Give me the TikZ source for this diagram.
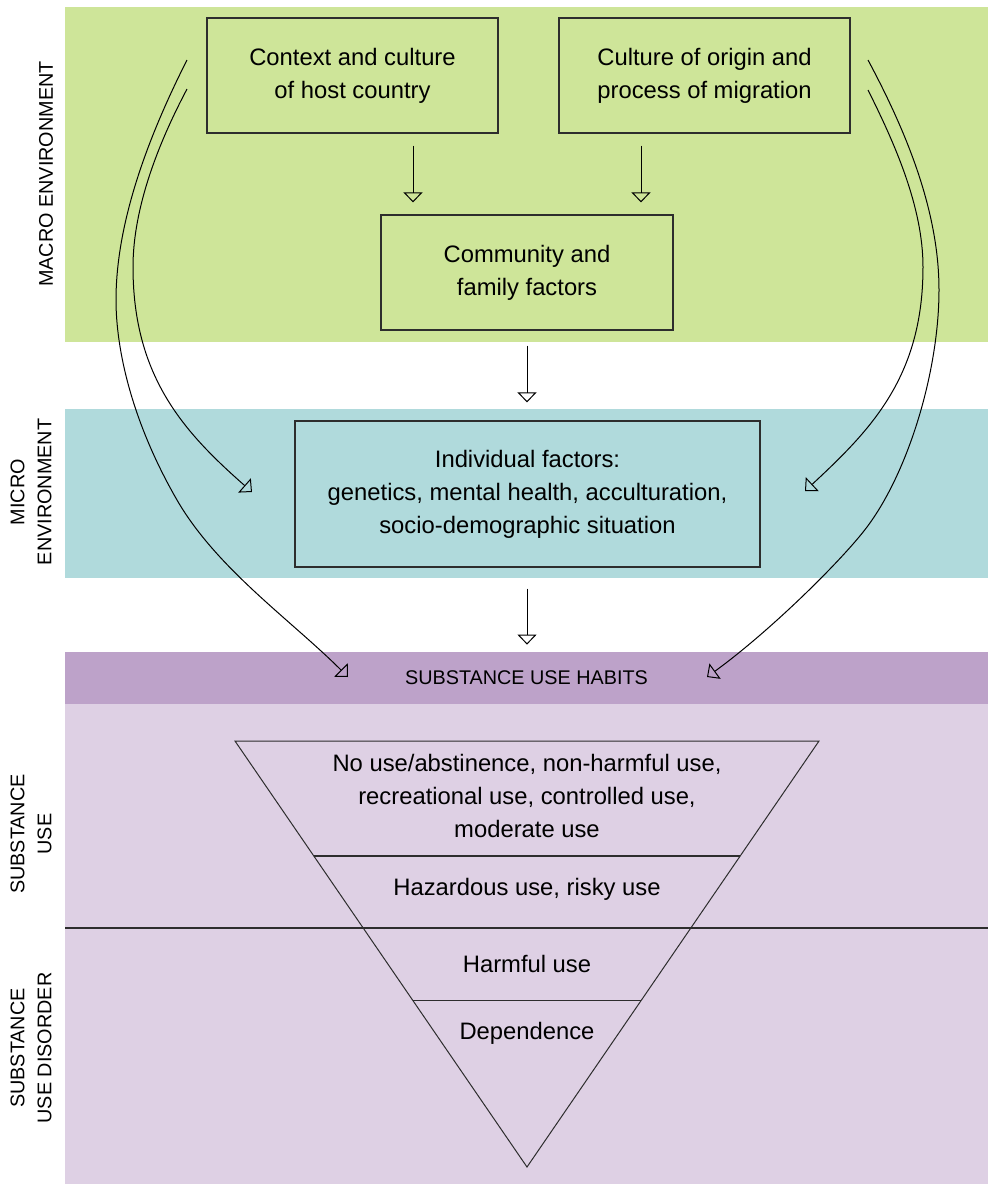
\documentclass[tikz,border=0pt]{standalone}
\usepackage{fontspec}
\setmainfont{Liberation Sans}
\usetikzlibrary{arrows.meta,calc}
\definecolor{macrocol}{RGB}{206,229,153}
\definecolor{microcol}{RGB}{176,218,220}
\definecolor{habitcol}{RGB}{189,162,201}
\definecolor{usecol}{RGB}{222,208,228}
\definecolor{edgecol}{RGB}{45,45,45}
\begin{document}
\begin{tikzpicture}[x=0.5pt,y=-0.5pt,
  bodyfont/.style={font=\fontsize{11.9pt}{16.5pt}\selectfont},
  labfont/.style={font=\fontsize{9.9pt}{13.5pt}\selectfont},
  box/.style={draw=edgecol, line width=0.6pt, inner sep=0pt, align=center, bodyfont},
  lab/.style={labfont, align=center, inner sep=0pt, rotate=90},
  txt/.style={bodyfont, align=center, inner sep=0pt},
  arr/.style={draw=black, line width=0.5pt, -{Triangle[open, length=5pt, width=9.5pt]}},
  curvearr/.style={arr}
]
% canvas
\fill[white] (0,0) rectangle (988,1184);
\useasboundingbox (0,0) rectangle (988,1184);

% bands
\fill[macrocol] (65,7) rectangle (988,342);
\fill[microcol] (65,409) rectangle (988,578);
\fill[usecol] (65,704) rectangle (988,1184);
\node[fill=habitcol, minimum width=461.5pt, minimum height=26pt, inner sep=0pt, labfont] (habits) at (526.5,678) {SUBSTANCE USE HABITS};
\coordinate (divL) at (65,928);
\coordinate (divR) at (988,928);
\draw[edgecol, line width=0.6pt] (divL) -- (divR);

% side labels
\node[lab] (macro) at (46,174) {MACRO ENVIRONMENT};
\node[lab] (micro) at (31,492) {MICRO\\ENVIRONMENT};
\node[lab] (su) at (31,834) {SUBSTANCE\\USE};
\node[lab] (sud) at (31,1048) {SUBSTANCE\\USE DISORDER};

% boxes
\node[box, minimum width=145.5pt, minimum height=57.5pt] (host) at (352.5,75.5) {Context and culture\\of host country};
\node[box, minimum width=145.5pt, minimum height=57.5pt] (origin) at (704.5,75.5) {Culture of origin and\\process of migration};
\node[box, minimum width=146pt, minimum height=57.5pt] (comm) at (527,272.5) {Community and\\family factors};
\node[box, minimum width=232.5pt, minimum height=73pt] (indiv) at (527.5,494) {Individual factors:\\genetics, mental health, acculturation,\\socio-demographic situation};

% straight arrows
\coordinate (a1) at (413,0);
\coordinate (a2) at (641,0);
\coordinate (a3) at (527,0);
\draw[arr, shorten <=6pt, shorten >=6pt] (host.south -| a1) -- (comm.north -| a1);
\draw[arr, shorten <=6pt, shorten >=6pt] (origin.south -| a2) -- (comm.north -| a2);
\draw[arr, shorten <=7.5pt, shorten >=9pt] (comm.south -| a3) -- (indiv.north -| a3);
\draw[arr, shorten <=10.5pt, shorten >=3.5pt] (indiv.south -| a3) -- (habits.north -| a3);

% curved arrows
\coordinate (loS) at (187,60);   \coordinate (loE) at (348,677);
\coordinate (liS) at (187,89);   \coordinate (liE) at (252,492);
\coordinate (roS) at (868,60);   \coordinate (roE) at (707,677);
\coordinate (riS) at (868,90);   \coordinate (riE) at (805,491);
\draw[curvearr] (loS) .. controls (142,149) and (116,230) .. (116,300)
  .. controls (116,350) and (132,422) .. (177,500)
  .. controls (217,569) and (291,620) .. (loE);
\draw[curvearr] (liS) .. controls (159,142) and (133,207) .. (133,267)
  .. controls (133,377) and (184.5,432.6) .. (liE);
\draw[curvearr] (roS) .. controls (905.6,130.4) and (939,210) .. (939,290)
  .. controls (939,370) and (909,471) .. (867,527)
  .. controls (843,559) and (771.8,629.8) .. (roE);
\draw[curvearr] (riS) .. controls (894.8,143.6) and (923,207) .. (923,267)
  .. controls (923,377) and (870.7,429.8) .. (riE);

% funnel
\coordinate (tl) at (235,741);
\coordinate (tr) at (819,741);
\coordinate (apex) at (527,1167);
\draw[edgecol, line width=0.5pt] (tl) -- (tr) -- (apex) -- cycle;
\draw[edgecol, line width=0.6pt] ($(tl)!0.27!(apex)$) -- ($(tr)!0.27!(apex)$);
\draw[edgecol, line width=0.6pt] ($(tl)!0.61!(apex)$) -- ($(tr)!0.61!(apex)$);

\node[txt] (lvl1) at (527,796) {No use/abstinence, non-harmful use,\\recreational use, controlled use,\\moderate use};
\node[txt] (lvl2) at (527,889) {Hazardous use, risky use};
\node[txt] (lvl3) at (527,964) {Harmful use};
\node[txt] (lvl4) at (527,1033) {Dependence};
\end{tikzpicture}
\end{document}
